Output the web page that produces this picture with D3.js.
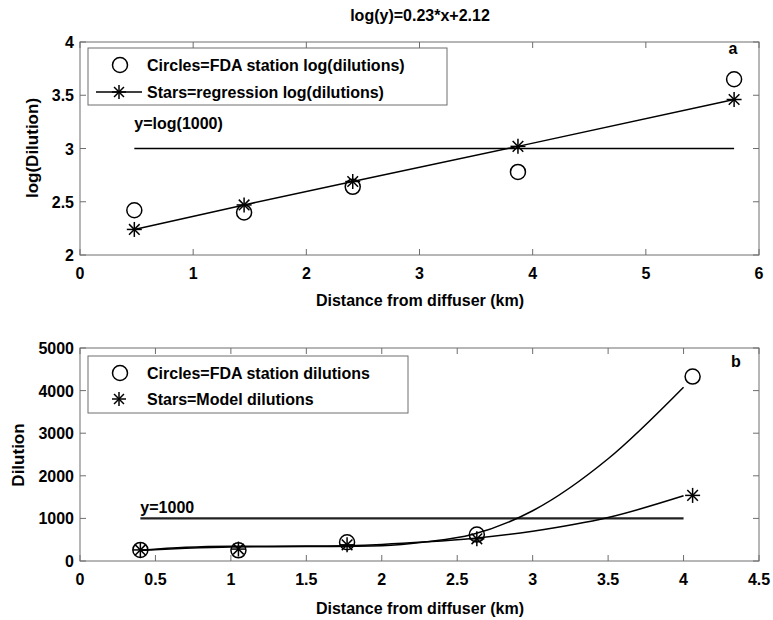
<!DOCTYPE html>
<html>
<head>
<meta charset="utf-8">
<script src="https://cdn.jsdelivr.net/npm/d3@7"></script>
<style>
  body { margin: 0; background: #fff; }
  svg text { font-family: Arial, "Liberation Sans", sans-serif; font-weight: bold; fill: #000; }
</style>
</head>
<body>
<svg id="chart" width="773" height="620"></svg>
<script>
// panel a: log dilutions
var distA = [0.48, 1.45, 2.41, 3.87, 5.78];
var fdaLog = [2.42, 2.40, 2.64, 2.78, 3.65];
var regLog = [2.24, 2.47, 2.69, 3.02, 3.46];
var xTicksA = [0, 1, 2, 3, 4, 5, 6];
var yTicksA = [2, 2.5, 3, 3.5, 4];

// panel b: dilutions
var distB = [0.4, 1.05, 1.77, 2.63, 4.06];
var fdaDil = [260, 250, 440, 620, 4330];
var modelDil = [260, 280, 380, 520, 1540];
// fitted curves
var fitX = [0.4, 0.7, 1.0, 1.5, 2.0, 2.3, 2.6, 3.0, 3.5, 4.0];
var fitFda = [250, 300, 330, 340, 360, 450, 620, 1180, 2400, 4080];
var fitModel = [250, 320, 345, 350, 390, 450, 530, 700, 1020, 1530];
var xTicksB = [0, 0.5, 1, 1.5, 2, 2.5, 3, 3.5, 4, 4.5];
var yTicksB = [0, 1000, 2000, 3000, 4000, 5000];

var svg = d3.select("#chart");

// draws a MATLAB style axes box with inward ticks on all sides
function drawAxes(g, x, y, xTicks, yTicks, xFmt, yFmt) {
  var x0 = x.range()[0], x1 = x.range()[1];
  var y0 = y.range()[0], y1 = y.range()[1];
  g.append("rect")
    .attr("x", x0).attr("y", y1)
    .attr("width", x1 - x0).attr("height", y0 - y1)
    .attr("fill", "none").attr("stroke", "#6e6e6e").attr("stroke-width", 1);
  xTicks.forEach(function(t) {
    var px = x(t);
    g.append("line").attr("x1", px).attr("x2", px).attr("y1", y0).attr("y2", y0 - 6).attr("stroke", "#6e6e6e");
    g.append("line").attr("x1", px).attr("x2", px).attr("y1", y1).attr("y2", y1 + 6).attr("stroke", "#6e6e6e");
    g.append("text").attr("x", px).attr("y", y0 + 24)
      .attr("text-anchor", "middle").attr("font-size", "16px").text(xFmt(t));
  });
  yTicks.forEach(function(t) {
    var py = y(t);
    g.append("line").attr("x1", x0).attr("x2", x0 + 6).attr("y1", py).attr("y2", py).attr("stroke", "#6e6e6e");
    g.append("line").attr("x1", x1).attr("x2", x1 - 6).attr("y1", py).attr("y2", py).attr("stroke", "#6e6e6e");
    g.append("text").attr("x", x0 - 6).attr("y", py + 6)
      .attr("text-anchor", "end").attr("font-size", "16px").text(yFmt(t));
  });
}

function star(g, cx, cy, r) {
  var s = g.append("g").attr("transform", "translate(" + cx + "," + cy + ")");
  [0, 45, 90, 135].forEach(function(a) {
    var rad = a * Math.PI / 180;
    s.append("line")
      .attr("x1", -r * Math.cos(rad)).attr("y1", -r * Math.sin(rad))
      .attr("x2", r * Math.cos(rad)).attr("y2", r * Math.sin(rad))
      .attr("stroke", "#000").attr("stroke-width", 1.5);
  });
}

function circle(g, cx, cy) {
  g.append("circle").attr("cx", cx).attr("cy", cy).attr("r", 7.5)
    .attr("fill", "none").attr("stroke", "#000").attr("stroke-width", 1.5);
}

// ---------- panel a ----------
var xA = d3.scaleLinear().domain([0, 6]).range([80, 759]);
var yA = d3.scaleLinear().domain([2, 4]).range([255, 42]);
var gA = svg.append("g");
drawAxes(gA, xA, yA, xTicksA, yTicksA, d3.format("d"), function(d) { return String(d); });

svg.append("text").attr("x", 420).attr("y", 21).attr("text-anchor", "middle")
  .attr("font-size", "16px").text("log(y)=0.23*x+2.12");
svg.append("text").attr("x", 420).attr("y", 306).attr("text-anchor", "middle")
  .attr("font-size", "16px").text("Distance from diffuser (km)");
svg.append("text").attr("transform", "translate(38,148) rotate(-90)").attr("text-anchor", "middle")
  .attr("font-size", "17px").text("log(Dilution)");

// y = log(1000) reference line
gA.append("line").attr("x1", xA(distA[0])).attr("x2", xA(distA[4]))
  .attr("y1", yA(3)).attr("y2", yA(3)).attr("stroke", "#000").attr("stroke-width", 1.6);
gA.append("text").attr("x", xA(distA[0])).attr("y", yA(3.18)).attr("font-size", "16px").text("y=log(1000)");

var lineA = d3.line().x(function(d) { return xA(d[0]); }).y(function(d) { return yA(d[1]); });
gA.append("path").datum(d3.zip(distA, regLog)).attr("d", lineA)
  .attr("fill", "none").attr("stroke", "#000").attr("stroke-width", 1.5);
distA.forEach(function(d, i) {
  circle(gA, xA(d), yA(fdaLog[i]));
  star(gA, xA(d), yA(regLog[i]), 7.5);
});
gA.append("text").attr("x", 733).attr("y", 54).attr("text-anchor", "middle").attr("font-size", "16px").text("a");

// legend a
gA.append("rect").attr("x", 88).attr("y", 48).attr("width", 359).attr("height", 57)
  .attr("fill", "#fff").attr("stroke", "#6e6e6e");
circle(gA, 120, 65);
gA.append("text").attr("x", 147).attr("y", 71).attr("font-size", "16px").text("Circles=FDA station log(dilutions)");
gA.append("line").attr("x1", 96).attr("x2", 142).attr("y1", 92).attr("y2", 92).attr("stroke", "#000").attr("stroke-width", 1.5);
star(gA, 119, 92, 7);
gA.append("text").attr("x", 147).attr("y", 98).attr("font-size", "16px").text("Stars=regression log(dilutions)");

// ---------- panel b ----------
var xB = d3.scaleLinear().domain([0, 4.5]).range([80, 759]);
var yB = d3.scaleLinear().domain([0, 5000]).range([561, 348]);
var gB = svg.append("g");
drawAxes(gB, xB, yB, xTicksB, yTicksB, function(d) { return String(d); }, function(d) { return String(d); });

svg.append("text").attr("x", 420).attr("y", 614).attr("text-anchor", "middle")
  .attr("font-size", "16px").text("Distance from diffuser (km)");
svg.append("text").attr("transform", "translate(24,455) rotate(-90)").attr("text-anchor", "middle")
  .attr("font-size", "17px").text("Dilution");

gB.append("line").attr("x1", xB(fitX[0])).attr("x2", xB(fitX[fitX.length - 1]))
  .attr("y1", yB(1000)).attr("y2", yB(1000)).attr("stroke", "#222").attr("stroke-width", 2.4);
gB.append("text").attr("x", xB(fitX[0])).attr("y", yB(1130)).attr("font-size", "16px").text("y=1000");

var lineB = d3.line().curve(d3.curveMonotoneX)
  .x(function(d) { return xB(d[0]); }).y(function(d) { return yB(d[1]); });
gB.append("path").datum(d3.zip(fitX, fitFda)).attr("d", lineB)
  .attr("fill", "none").attr("stroke", "#000").attr("stroke-width", 1.5);
gB.append("path").datum(d3.zip(fitX, fitModel)).attr("d", lineB)
  .attr("fill", "none").attr("stroke", "#000").attr("stroke-width", 1.5);
distB.forEach(function(d, i) {
  circle(gB, xB(d), yB(fdaDil[i]));
  star(gB, xB(d), yB(modelDil[i]), 7.5);
});
gB.append("text").attr("x", 736).attr("y", 367).attr("text-anchor", "middle").attr("font-size", "16px").text("b");

// legend b
gB.append("rect").attr("x", 88).attr("y", 356).attr("width", 320).attr("height", 57)
  .attr("fill", "#fff").attr("stroke", "#6e6e6e");
circle(gB, 120, 373);
gB.append("text").attr("x", 147).attr("y", 379).attr("font-size", "16px").text("Circles=FDA station dilutions");
star(gB, 119, 399, 7);
gB.append("text").attr("x", 147).attr("y", 405).attr("font-size", "16px").text("Stars=Model dilutions");
</script>
</body>
</html>
